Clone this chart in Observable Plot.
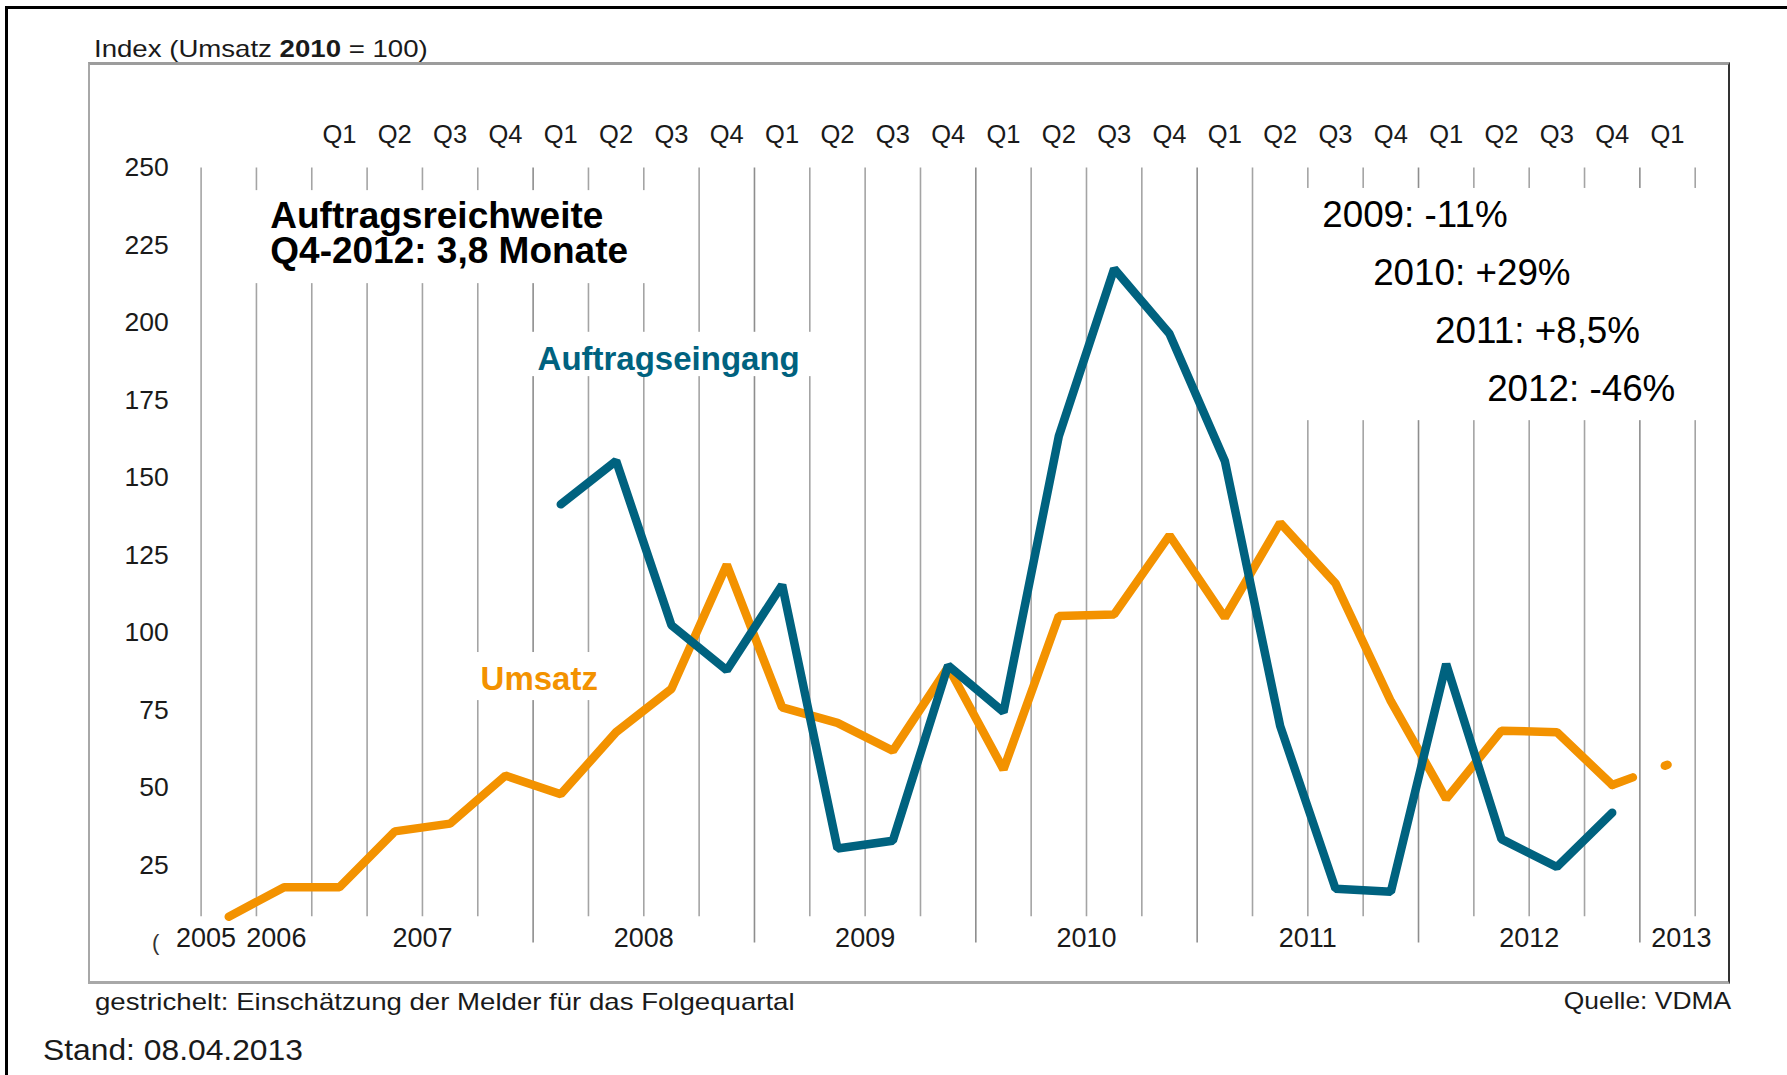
<!DOCTYPE html>
<html lang="de">
<head>
<meta charset="utf-8">
<title>Auftragseingang und Umsatz – Index</title>
<script src="https://cdn.jsdelivr.net/npm/d3@7"></script>
<script src="https://cdn.jsdelivr.net/npm/@observablehq/plot@0.6"></script>
<style>
  html, body { margin: 0; padding: 0; background: #fff; }
  #page { position: relative; width: 1787px; height: 1075px; overflow: hidden;
          font-family: "Liberation Sans", Arial, Helvetica, sans-serif; color: #1a1a1a; }
  .outer { position: absolute; left: 5px; top: 6px; width: 1900px; height: 1200px;
           border-left: 3px solid #000; border-top: 3px solid #000; }
  .inner { position: absolute; left: 88px; top: 62px; width: 1638px; height: 916px;
           border-left: 2px solid #a8a8a8; border-top: 3px solid #9c9c9c;
           border-bottom: 3px solid #a8a8a8; border-right: 2px solid #333; }
  #chart { position: absolute; left: 0; top: 0; }
  .txt { position: absolute; white-space: nowrap; line-height: 1; }
</style>
</head>
<body>
<div id="page">
  <div class="outer"></div>
  <div class="inner"></div>
  <div id="chart"></div>
  <div class="txt" style="left:94px; top:36.7px; font-size:24px; transform:scaleX(1.15); transform-origin:left center;">Index (Umsatz <b>2010</b> = 100)</div>
  <div class="txt" style="left:152px; top:932px; font-size:22px; color:#333;">(</div>
  <div class="txt" style="left:94.5px; top:989.7px; font-size:24px; transform:scaleX(1.15); transform-origin:left center;">gestrichelt: Einschätzung der Melder für das Folgequartal</div>
  <div class="txt" style="right:56px; top:988.7px; font-size:24px; transform:scaleX(1.1); transform-origin:right center;">Quelle: VDMA</div>
  <div class="txt" style="left:43px; top:1034.6px; font-size:30px; transform:scaleX(1.06); transform-origin:left center;">Stand: 08.04.2013</div>
</div>
<script>
// ---------- data ----------
const periods = [
  "2005", "2006",
  "2007 Q1", "2007 Q2", "2007 Q3", "2007 Q4",
  "2008 Q1", "2008 Q2", "2008 Q3", "2008 Q4",
  "2009 Q1", "2009 Q2", "2009 Q3", "2009 Q4",
  "2010 Q1", "2010 Q2", "2010 Q3", "2010 Q4",
  "2011 Q1", "2011 Q2", "2011 Q3", "2011 Q4",
  "2012 Q1", "2012 Q2", "2012 Q3", "2012 Q4",
  "2013 Q1"
];
const umsatz = [
  8.5, 18,
  18, 36, 38.5, 54,
  48, 68, 82, 122,
  76, 71, 62, 89,
  56, 105.5, 106, 131.5,
  105, 135.5, 116, 78,
  46.5, 68.5, 68, 51,
  null
];
const auftragseingang = [
  null, null,
  null, null, null, null,
  141.5, 155.5, 102.5, 88,
  115.5, 30.5, 33, 89.5,
  74.5, 163.5, 217.5, 196.5,
  155.5, 70, 17.5, 16.5,
  90, 33.5, 24.5, 42,
  null
];
// gestrichelt: Einschätzung der Melder für das Folgequartal
const prognosePeriods = ["2012 Q4", "2013 Q1"];
const umsatzPrognose = [51, 57.5];

const years = ["2005", "2006", "2007", "2008", "2009", "2010", "2011", "2012", "2013"];
const yTicks = [25, 50, 75, 100, 125, 150, 175, 200, 225, 250];

// ---------- derived tables ----------
const orange = "#f39200";
const teal = "#00627f";
const FONT = "Liberation Sans, Arial, Helvetica, sans-serif";

const rows = periods.map((p, k) => ({
  period: p,
  idx: k - 2,
  year: p.slice(0, 4),
  quarter: p.includes("Q") ? p.slice(5) : null,
  umsatz: umsatz[k],
  auftrag: auftragseingang[k]
}));
const idxOf = p => rows.find(r => r.period === p).idx;
const prognose = prognosePeriods.map((p, k) => ({idx: idxOf(p), value: umsatzPrognose[k]}));

const n = rows.length;
const grid = d3.range(n + 1).map(k => ({
  x: k - 2.5,
  long: k > 0 && k < n && rows[k - 1].quarter && rows[k].quarter && rows[k - 1].year !== rows[k].year
}));
const quarterRows = rows.filter(r => r.quarter);
const yearShift = {"2005": -0.41, "2006": -0.14, "2013": 0.25};
const yearRows = years.map(y => ({
  year: y,
  x: d3.mean(rows.filter(r => r.year === y), r => r.idx) + (yearShift[y] || 0)
}));

// ---------- chart ----------
const chart = Plot.plot({
  width: 1787,
  height: 1075,
  marginLeft: 200.6,
  marginRight: 92.3,
  marginTop: 167.5,
  marginBottom: 132.5,
  style: {fontFamily: FONT, background: "transparent", color: "#1a1a1a", overflow: "visible"},
  x: {type: "linear", domain: [rows[0].idx - 0.5, rows[n - 1].idx + 0.5], axis: null},
  y: {type: "linear", domain: [0, 250]},
  marks: [
    // vertical grid lines
    Plot.ruleX(grid.filter(g => !g.long), {x: "x", y1: 8.5, y2: 250, stroke: "#a4a4a4", strokeWidth: 1.6}),
    Plot.ruleX(grid.filter(g => g.long), {x: "x", y1: 0, y2: 250, stroke: "#8e8e8e", strokeWidth: 1.6}),
    // white label backgrounds that interrupt the grid
    Plot.rect([0], {x1: -2.2, x2: 6.0, y1: 212.7, y2: 242.7, fill: "white"}),
    Plot.rect([0], {x1: 17.0, x2: 25.0, y1: 168.5, y2: 243.4, fill: "white"}),
    Plot.rect([0], {x1: 3.0, x2: 9.0, y1: 182.7, y2: 197.0, fill: "white"}),
    Plot.rect([0], {x1: 2.0, x2: 5.0, y1: 78.2, y2: 93.7, fill: "white"}),
    // series
    Plot.line(rows, {x: "idx", y: "umsatz", stroke: orange, strokeWidth: 8.5,
      strokeLinejoin: "miter", strokeLinecap: "round"}),
    Plot.line(prognose, {x: "idx", y: "value", stroke: orange, strokeWidth: 8.5,
      strokeDasharray: "22,34", strokeLinecap: "round"}),
    Plot.line(rows, {x: "idx", y: "auftrag", stroke: teal, strokeWidth: 8.5,
      strokeLinejoin: "miter", strokeLinecap: "round"}),
    // axes
    Plot.axisY(yTicks, {tickSize: 0, tickPadding: 32.4, fontSize: 26.5, label: null, fill: "#1a1a1a"}),
    Plot.text(quarterRows, {x: "idx", y: 250, text: "quarter", lineAnchor: "bottom", dy: -25,
      fontSize: 25.5, fill: "#1a1a1a"}),
    Plot.text(yearRows, {x: "x", y: 0, text: "year", lineAnchor: "bottom", dy: 4,
      fontSize: 27, fill: "#1a1a1a"}),
    // annotations
    Plot.text(["Auftragsreichweite\nQ4-2012: 3,8 Monate"], {x: -1.25, y: 219.2, text: d => d,
      textAnchor: "start", lineAnchor: "bottom", lineHeight: 0.97, fontSize: 37, fontWeight: "bold", fill: "#000"}),
    Plot.text(["2009: -11%"], {x: 17.76, y: 231.1, text: d => d, textAnchor: "start", lineAnchor: "bottom", fontSize: 36.8, fill: "#000"}),
    Plot.text(["2010: +29%"], {x: 18.68, y: 212.4, text: d => d, textAnchor: "start", lineAnchor: "bottom", fontSize: 36.8, fill: "#000"}),
    Plot.text(["2011: +8,5%"], {x: 19.8, y: 193.7, text: d => d, textAnchor: "start", lineAnchor: "bottom", fontSize: 36.8, fill: "#000"}),
    Plot.text(["2012: -46%"], {x: 20.74, y: 175.0, text: d => d, textAnchor: "start", lineAnchor: "bottom", fontSize: 36.8, fill: "#000"}),
    Plot.text(["Auftragseingang"], {x: 3.58, y: 184.7, text: d => d, textAnchor: "start", lineAnchor: "bottom",
      fontSize: 33, fontWeight: "bold", fill: teal}),
    Plot.text(["Umsatz"], {x: 2.55, y: 81.5, text: d => d, textAnchor: "start", lineAnchor: "bottom",
      fontSize: 33, fontWeight: "bold", fill: orange})
  ]
});
document.getElementById("chart").appendChild(chart);
</script>
</body>
</html>
